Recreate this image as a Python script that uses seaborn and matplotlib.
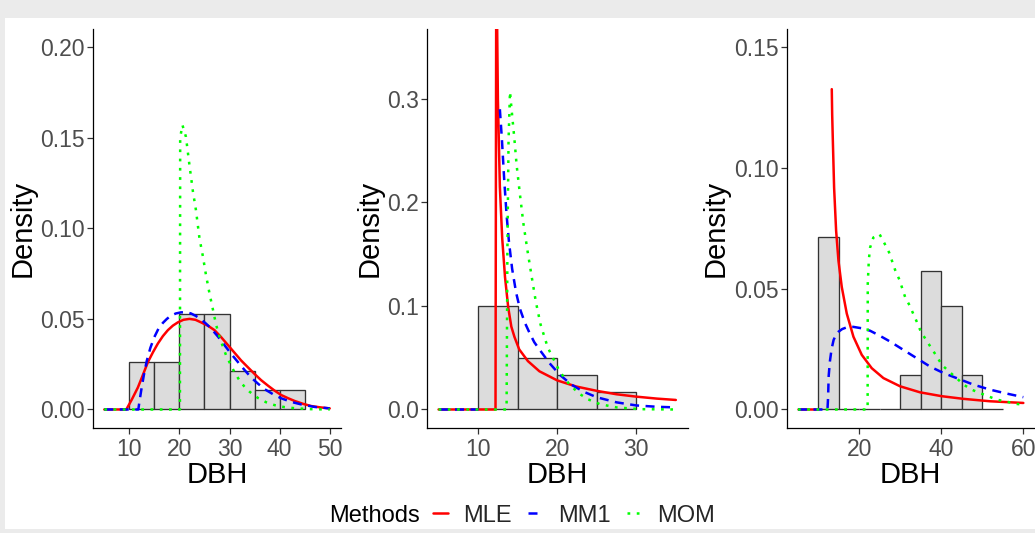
import numpy as np
import matplotlib
matplotlib.use("Agg")
import matplotlib.pyplot as plt
from matplotlib.patches import Rectangle
from matplotlib.lines import Line2D
from matplotlib.ticker import FormatStrFormatter
import seaborn as sns

nan = np.nan

# ---------------- data ----------------
methods = ["MLE", "MM1", "MOM"]

edges1 = [10, 15, 20, 25, 30, 35, 40, 45]
counts1 = [5, 5, 10, 10, 4, 2, 2]
edges2 = [10, 15, 20, 25, 30]
counts2 = [6, 3, 2, 1]
edges3 = [10, 15, 20, 25, 30, 35, 40, 45, 50, 55]
counts3 = [5, 0, 0, 0, 1, 4, 3, 1, 0]

mle1_x = [5, 9.4, 10.5, 11.7, 12.7, 13.7, 14.7, 15.7, 16.7, 17.7, 18.7, 19.7, 20.8, 22.0, 23.2, 24.3, 25.7, 27.0, 28.3, 29.7,
          31.0, 32.3, 33.7, 35.0, 36.3, 37.7, 39.0, 40.3, 41.7, 43.0, 44.7, 46.3, 48.0, 50.0]
mle1_y = [0, 0, 0.0055, 0.0121, 0.019, 0.0261, 0.0315, 0.0364, 0.0405, 0.0438, 0.0463, 0.0481, 0.0495, 0.0500, 0.0495, 0.0481,
          0.0462, 0.0438, 0.0400, 0.0355, 0.0313, 0.0271, 0.0232, 0.0196, 0.0162, 0.0131, 0.0104, 0.0080, 0.0062, 0.0047,
          0.0031, 0.0019, 0.0012, 0.0006]
mm1_1_x = [5, 11.8, 12.0, 12.4, 12.9, 13.5, 14.2, 15.0, 15.8, 16.7, 17.5, 18.3, 19.3, 20.3, 21.3, 22.3, 23.3, 24.3, 25.3, 26.3,
           27.7, 29.0, 30.3, 31.7, 33.0, 34.3, 35.7, 37.0, 38.7, 40.3, 42.3, 44.3, 47.0, 50.0]
mm1_1_y = [0, 0, 0.004, 0.011, 0.019, 0.027, 0.034, 0.040, 0.0445, 0.0478, 0.050, 0.0518, 0.053, 0.0536, 0.0537, 0.0530,
           0.0516, 0.0497, 0.0474, 0.0448, 0.0402, 0.0355, 0.0308, 0.0261, 0.0218, 0.0177, 0.0142, 0.0112, 0.0084, 0.0062,
           0.0042, 0.0028, 0.0014, 0.0006]
mom1_x = [5, 20.1, 20.15, 20.6, 21.3, 22.0, 22.7, 23.3, 24.0, 24.7, 25.3, 26.0, 26.7, 27.3, 28.0, 28.7, 29.3, 30.0, 31.0, 32.0,
          33.0, 34.0, 35.7, 37.3, 39.0, 41.0, 43.0, 46.0, 50.0]
mom1_y = [0, 0, 0.150, 0.157, 0.1505, 0.1349, 0.1202, 0.110, 0.0945, 0.0843, 0.0742, 0.0641, 0.055, 0.047, 0.040, 0.0345,
          0.030, 0.026, 0.0205, 0.016, 0.0125, 0.0098, 0.0063, 0.0040, 0.0024, 0.0013, 0.0007, 0.0002, 0.0]

mle2_x = [5, 12.2, 12.3, 12.5, 12.75, 13.05, 13.4, 13.8, 14.2, 14.6, 15.2, 16.3, 17.75, 20.0, 22.4, 25.0, 27.5, 30.0, 32.6, 35.0]
mle2_y = [0, 0, 0.45, 0.30, 0.215, 0.165, 0.128, 0.099, 0.080, 0.070, 0.058, 0.0467, 0.0369, 0.0281, 0.0222, 0.018, 0.0147,
          0.0124, 0.0105, 0.0092]
mm1_2_x = [5, 10, nan, 12.75, 13.0, 13.3, 13.6, 13.9, 14.3, 14.8, 15.3, 15.9, 16.5, 17.1, 17.75, 19.0, 20.3, 21.8, 23.3, 25.0,
           27.5, 30.0, 32.6, 35.0]
mm1_2_y = [0, 0, nan, 0.29, 0.262, 0.222, 0.188, 0.162, 0.136, 0.113, 0.097, 0.084, 0.074, 0.065, 0.058, 0.045, 0.0337, 0.024,
           0.0173, 0.0118, 0.0069, 0.0039, 0.0026, 0.002]
mom2_x = [5, 13.6, 13.7, 13.85, 14.03, 14.24, 14.58, 14.87, 15.3, 15.72, 16.23, 16.78, 17.3, 17.9, 18.8, 19.66, 20.3, 21.57,
          22.84, 23.9, 25.38, 27.5, 30.5, 35]
mom2_y = [0, 0, 0.15, 0.26, 0.307, 0.289, 0.262, 0.236, 0.207, 0.180, 0.154, 0.128, 0.104, 0.082, 0.060, 0.0467, 0.0369,
          0.0239, 0.015, 0.0098, 0.0052, 0.002, 0.0003, 0]

mle3_x = [5, 10, nan, 13.25, 13.35, 13.5, 13.82, 14.31, 14.88, 15.69, 16.91, 18.54, 20.57, 23.0, 25.85, 29.92, 34.8, 40.08,
          45.37, 51.87, 60]
mle3_y = [0, 0, nan, 0.1326, 0.122, 0.112, 0.0918, 0.074, 0.0616, 0.0507, 0.0397, 0.0301, 0.0226, 0.0171, 0.013, 0.0096,
          0.0071, 0.0055, 0.0044, 0.0034, 0.0027]
mm1_3_x = [5, 12.2, 12.35, 12.5, 12.8, 13.2, 13.7, 14.3, 14.9, 15.8, 16.9, 18.5, 20.6, 22.6, 25.0, 27.5, 30.7, 34.0, 37.2,
           40.5, 43.7, 47.8, 51.9, 55.9, 60]
mm1_3_y = [0, 0, 0.005, 0.014, 0.020, 0.025, 0.0288, 0.031, 0.0322, 0.0333, 0.034, 0.0342, 0.0336, 0.0326, 0.0305, 0.0281,
           0.0247, 0.0212, 0.0178, 0.0151, 0.013, 0.0103, 0.0082, 0.0066, 0.0051]
mom3_x = [5, 22.0, 22.03, 22.3, 22.6, 23.4, 24.9, 26.1, 27.24, 28.7, 29.76, 31.14, 32.2, 34.0, 35.0, 37.4, 38.9, 40.1, 42.0,
          43.7, 45.4, 47.4, 49.4, 53.5, 58.4, 60]
mom3_y = [0, 0, 0.052, 0.062, 0.067, 0.0712, 0.0726, 0.0688, 0.065, 0.0578, 0.0537, 0.0466, 0.0432, 0.0363, 0.0322, 0.0258,
          0.0219, 0.0185, 0.0155, 0.013, 0.0103, 0.0082, 0.0068, 0.0041, 0.0023, 0.002]

x_ranges = [(5, 50), (5, 35), (5, 60)]
y_ranges = [(0, 0.20), (0, 0.35), (0, 0.15)]
x_ticks = [[10, 20, 30, 40, 50], [10, 20, 30], [20, 40, 60]]
y_ticks = [[0, 0.05, 0.10, 0.15, 0.20], [0, 0.1, 0.2, 0.3], [0, 0.05, 0.10, 0.15]]
y_fmt = ["%.2f", "%.1f", "%.2f"]

# ---------------- style ----------------
sns.set_theme(style="ticks")
plt.rcParams["font.family"] = ["Liberation Sans", "DejaVu Sans"]

colors = {"MLE": "#FF0000", "MM1": "#0000FF", "MOM": "#00FF00"}
LW = 1.8
styles = {
    "MLE": dict(linestyle="-"),
    "MM1": dict(linestyle=(0, (3.6, 2.6))),
    "MOM": dict(linestyle=(0, (1.1, 2.6)), dash_capstyle="butt"),
}

W, H = 1035, 533
fig = plt.figure(figsize=(W / 100, H / 100), dpi=100)
fig.patch.set_facecolor("#EBEBEB")
fig.add_artist(Rectangle((5 / W, 1 - 528.5 / H), 1.0, (528.5 - 17.7) / H, transform=fig.transFigure,
                         facecolor="white", edgecolor="none", zorder=-5))

ax_bottom = 1 - 427.6 / H
ax_height = (427.6 - 29.0) / H
lefts = [93.0, 426.7, 786.7]
widths = [248.0, 261.0, 247.9]
ylab_x = [22.7, 369.4, 716.0]

panels = [
    (edges1, counts1, [(mle1_x, mle1_y), (mm1_1_x, mm1_1_y), (mom1_x, mom1_y)]),
    (edges2, counts2, [(mle2_x, mle2_y), (mm1_2_x, mm1_2_y), (mom2_x, mom2_y)]),
    (edges3, counts3, [(mle3_x, mle3_y), (mm1_3_x, mm1_3_y), (mom3_x, mom3_y)]),
]


def draw_curve(ax, xs, ys, method):
    xs = np.asarray(xs, float)
    ys = np.asarray(ys, float)
    breaks = np.where(np.isnan(xs))[0]
    starts = [0] + list(breaks + 1)
    ends = list(breaks) + [len(xs)]
    for s, e in zip(starts, ends):
        if e - s < 2:
            continue
        sns.lineplot(x=xs[s:e], y=ys[s:e], ax=ax, color=colors[method], linewidth=LW,
                     sort=False, estimator=None, legend=False, **styles[method])


for i, (edges, counts, curves) in enumerate(panels):
    ax = fig.add_axes([lefts[i] / W, ax_bottom, widths[i] / W, ax_height])
    centers = [(edges[k] + edges[k + 1]) / 2 for k in range(len(counts))]
    sns.histplot(x=centers, weights=counts, bins=edges, stat="density", ax=ax,
                 color="#DCDCDC", alpha=1, edgecolor="#333333", linewidth=0.95)
    for (xs, ys), m in zip(curves, methods):
        draw_curve(ax, xs, ys, m)

    x0, x1 = x_ranges[i]
    y0, y1 = y_ranges[i]
    dx = 0.05 * (x1 - x0)
    dy = 0.05 * (y1 - y0)
    ax.set_xlim(x0 - dx, x1 + dx)
    ax.set_ylim(y0 - dy, y1 + dy)
    ax.set_xticks(x_ticks[i])
    ax.set_yticks(y_ticks[i])
    ax.yaxis.set_major_formatter(FormatStrFormatter(y_fmt[i]))
    ax.set_facecolor("white")
    for side in ["top", "right"]:
        ax.spines[side].set_visible(False)
    for side in ["left", "bottom"]:
        ax.spines[side].set_color("black")
        ax.spines[side].set_linewidth(0.9)
    ax.tick_params(axis="both", length=4, width=0.9, color="#333333", labelcolor="#4D4D4D", labelsize=16.5)
    ax.tick_params(axis="x", pad=3.2)
    ax.tick_params(axis="y", pad=1.7)
    ax.grid(False)

    ax.set_xlabel("DBH", fontsize=21, color="black")
    ax.xaxis.label.set_va("top")
    ax.xaxis.set_label_coords(0.5, -(461.2 - 427.6) / 398.6)
    ax.set_ylabel("Density", fontsize=21, color="black")
    ax.yaxis.label.set_va("center")
    ax.yaxis.set_label_coords((ylab_x[i] - lefts[i]) / widths[i], 0.5)

# legend
leg_y = 1 - 515.5 / H
fig.text(329 / W, leg_y, "Methods", ha="left", va="center", fontsize=17, color="black")
handles = [Line2D([], [], color=colors[m], linewidth=LW, **styles[m]) for m in methods]
fig.legend(handles, methods, loc="center left", bbox_to_anchor=(433 / W, leg_y), ncol=3, frameon=False,
           fontsize=17, handlelength=0.64, handletextpad=0.64, columnspacing=0.68, borderpad=0,
           borderaxespad=0)

fig.savefig("out.png", dpi=100, facecolor=fig.get_facecolor())
